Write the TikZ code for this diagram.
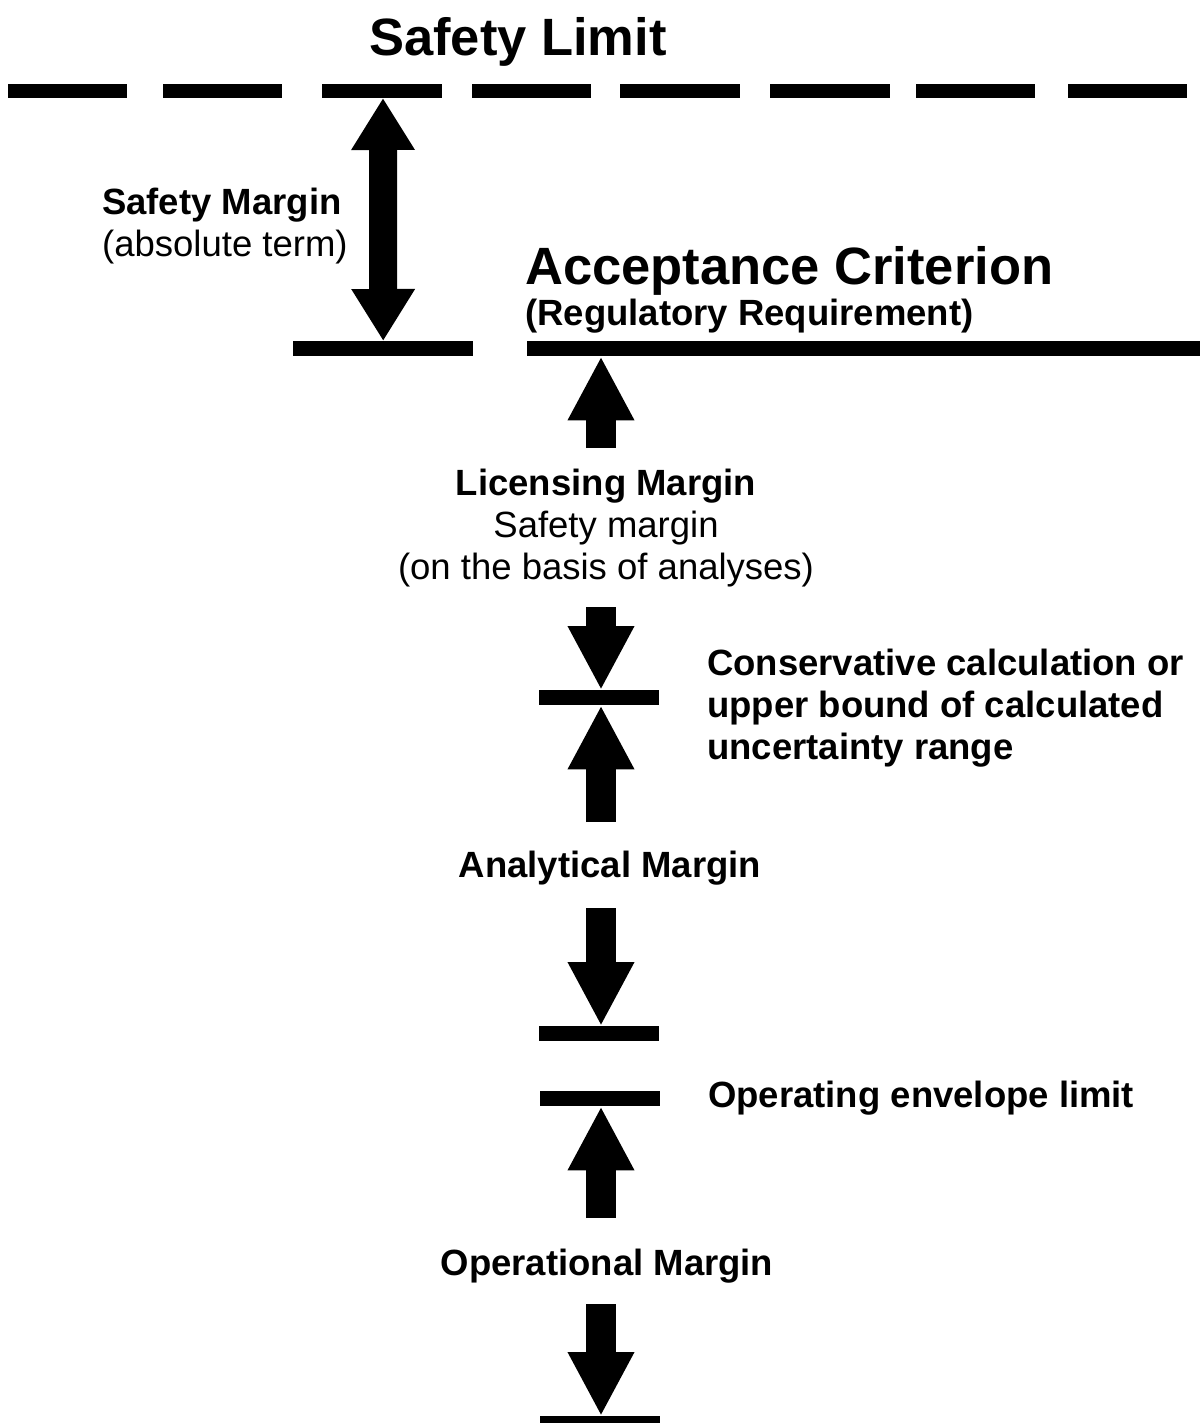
\documentclass[tikz,border=0pt]{standalone}
\usepackage{fontspec}
\setmainfont{Liberation Sans}
\usetikzlibrary{arrows.meta, positioning, calc}

\begin{document}
\begin{tikzpicture}[
  x=1pt, y=-1pt,
  every node/.style={inner sep=0pt, font=\fontsize{36.5}{42}\selectfont},
  bar/.style={fill=black, minimum height=15pt},
  big/.style={font=\fontsize{52.5}{60}\selectfont\bfseries},
  lbl/.style={font=\fontsize{36.5}{42}\selectfont\bfseries},
  fat/.style={line width=30pt, -{Triangle[length=64pt, width=62pt]}},
  twofat/.style={line width=28pt, {Triangle[length=52pt, width=60pt]}-{Triangle[length=52pt, width=60pt]}}
]
  \useasboundingbox (0,0) rectangle (1200,1423);

  % safety limit (dashed)
  \foreach \a/\b in {8/127, 163/282, 322/442, 472/591, 620/740, 770/890, 916/1035, 1068/1187}
    \fill (\a,84) rectangle (\b,98);
  \coordinate (limit) at (383,98);
  \node[big, anchor=base] (limtxt) at (518,56) {Safety Limit};

  % bars
  \node[bar, minimum width=180pt, anchor=north west] (smbar) at (293,341) {};
  \node[bar, minimum width=673pt, anchor=north west] (accbar) at (527,341) {};
  \node[bar, minimum width=120pt, anchor=north west] (consbar) at (539,690) {};
  \node[bar, minimum width=120pt, anchor=north west] (anabar) at (539,1026) {};
  \node[bar, minimum width=120pt, anchor=north west] (envbar) at (540,1091) {};
  \node[bar, minimum width=120pt, anchor=north west] (opbar) at (540,1416) {};

  % texts (base = last line)
  \node[anchor=base west, align=left] (smtxt) at (102,257) {\textbf{Safety Margin}\\(absolute term)};
  \node[big, anchor=base west] (acctxt) at (525,284) {Acceptance Criterion};
  \node[lbl, anchor=base west] (regtxt) at (525,325) {(Regulatory Requirement)};
  \node[anchor=base, align=center] (lictxt) at (606,579) {\textbf{Licensing Margin}\\Safety margin\\(on the basis of analyses)};
  \node[lbl, anchor=base west, align=left] (constxt) at (707,759) {Conservative calculation or\\upper bound of calculated\\uncertainty range};
  \node[lbl, anchor=base] (anatxt) at (610,877) {Analytical Margin};
  \node[lbl, anchor=base west] (envtxt) at (708,1107) {Operating envelope limit};
  \node[lbl, anchor=base] (optxt) at (607,1275) {Operational Margin};

  % arrow tails
  \coordinate (lic1) at (601,448);
  \coordinate (lic2) at (601,607);
  \coordinate (ana1) at (601,822);
  \coordinate (ana2) at (601,908);
  \coordinate (op1) at (601,1218);
  \coordinate (op2) at (601,1304);

  \draw[twofat] (limit) -- (smbar.north);
  \draw[fat] (lic1) -- (lic1 |- accbar.south);
  \draw[fat] (lic2) -- (lic2 |- consbar.north);
  \draw[fat] (ana1) -- (ana1 |- consbar.south);
  \draw[fat] (ana2) -- (ana2 |- anabar.north);
  \draw[fat] (op1) -- (op1 |- envbar.south);
  \draw[fat] (op2) -- (op2 |- opbar.north);
\end{tikzpicture}
\end{document}
